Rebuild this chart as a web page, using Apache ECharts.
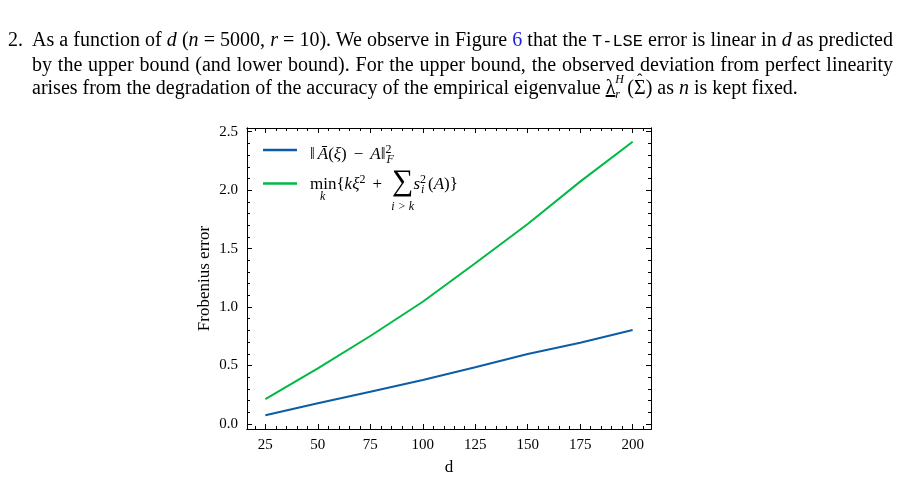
<!DOCTYPE html>
<html>
<head>
<meta charset="utf-8">
<script src="https://cdn.jsdelivr.net/npm/echarts@6/dist/echarts.min.js"></script>
<style>
    body { margin: 0; background: #fff; }
    #chart { position: absolute; left: 0; top: 0; width: 902px; height: 478px; }
    #text { position: absolute; left: 0; top: 28px; width: 902px; font-family: 'Liberation Serif', serif; font-size: 20px; line-height: 23px; color: #000; z-index: 2; }
    .ln { position: relative; margin-left: 32px; width: 861px; text-align: justify; text-align-last: justify; }
    .last { text-align-last: left; }
    .num { position: absolute; left: -24px; }
    .tt { font-family: 'Liberation Mono', monospace; font-size: 17px; }
    .blue { color: #1f1fe0; }
    .ss { display: inline-block; position: relative; width: 12px; height: 10px; }
    .ss .up { position: absolute; left: 0; top: -11px; font-size: 12px; font-style: italic; line-height: 12px; }
    .ss .dn { position: absolute; left: 0; top: 4px; font-size: 12px; font-style: italic; line-height: 12px; }
    .hat { position: relative; display: inline-block; }
    .hat .h { position: absolute; left: 3px; top: -8px; font-size: 16px; }
</style>
</head>
<body>
<div id="text">
    <div class="ln"><span class="num">2.</span>As a function of <i>d</i> (<i>n</i> = 5000, <i>r</i> = 10). We observe in Figure <span class="blue">6</span> that the <span class="tt">T-LSE</span> error is linear in <i>d</i> as predicted</div>
    <div class="ln">by the upper bound (and lower bound). For the upper bound, the observed deviation from perfect linearity</div>
    <div class="ln last">arises from the degradation of the accuracy of the empirical eigenvalue <span style="text-decoration: underline">λ</span><span class="ss"><span class="up">H</span><span class="dn">r</span></span>(<span class="hat">Σ<span class="h">ˆ</span></span>) as <i>n</i> is kept fixed.</div>
</div>
<div id="chart"></div>
<script>
var dValues = [25, 50, 75, 100, 125, 150, 175, 200];
var frobError = [0.073, 0.176, 0.275, 0.375, 0.484, 0.598, 0.694, 0.803];
var boundError = [0.212, 0.475, 0.752, 1.045, 1.374, 1.711, 2.073, 2.415];
var seriesNames = ['frob', 'bound'];
var xMajorTicks = [25, 50, 75, 100, 125, 150, 175, 200];
var yMajorTicks = [0, 0.5, 1.0, 1.5, 2.0, 2.5];

var X_MIN = 16.25, X_MAX = 208.75;
var Y_MIN = -0.044, Y_MAX = 2.532;
var FONT = 'Liberation Serif';

// minor ticks: every 5 on x, every 0.1 on y
var xMinorTicks = [];
for (var v = 20; v <= 205; v += 5) {
    if (v % 25 != 0) xMinorTicks.push(v);
}
var yMinorTicks = [];
for (var k = 1; k <= 25; k++) {
    if (k % 5 != 0) yMinorTicks.push(k / 10);
}

function pairs(xs, ys) {
    var out = [];
    for (var i = 0; i < xs.length; i++) out.push([xs[i], ys[i]]);
    return out;
}

function makeAxis(kind, pos, ticks, len, withLabels) {
    var axis = {
        type: 'value',
        position: pos,
        min: kind == 'x' ? X_MIN : Y_MIN,
        max: kind == 'x' ? X_MAX : Y_MAX,
        axisLine: { show: true, onZero: false, lineStyle: { color: '#000', width: 1 } },
        axisTick: { show: true, inside: true, length: len, customValues: ticks, lineStyle: { color: '#000', width: 1 } },
        axisLabel: { show: false },
        splitLine: { show: false }
    };
    if (withLabels) {
        axis.axisLabel = {
            show: true,
            customValues: ticks,
            margin: 9,
            color: '#000',
            fontFamily: FONT,
            fontSize: 15,
            formatter: function (val) {
                return kind == 'x' ? String(val) : val.toFixed(1);
            }
        };
    }
    return axis;
}

var xAxes = [
    makeAxis('x', 'bottom', xMajorTicks, 5, true),
    makeAxis('x', 'bottom', xMinorTicks, 3, false),
    makeAxis('x', 'top', xMajorTicks, 5, false),
    makeAxis('x', 'top', xMinorTicks, 3, false)
];
xAxes[0].name = 'd';
xAxes[0].nameLocation = 'middle';
xAxes[0].nameGap = 30;
xAxes[0].nameTextStyle = { fontFamily: FONT, fontSize: 17, color: '#000' };

var yAxes = [
    makeAxis('y', 'left', yMajorTicks, 5, true),
    makeAxis('y', 'left', yMinorTicks, 3, false),
    makeAxis('y', 'right', yMajorTicks, 5, false),
    makeAxis('y', 'right', yMinorTicks, 3, false)
];
yAxes[0].name = 'Frobenius error';
yAxes[0].nameLocation = 'middle';
yAxes[0].nameGap = 34;
yAxes[0].nameTextStyle = { fontFamily: FONT, fontSize: 17, color: '#000' };

// legend labels as rich text (math)
var rich = {
    n: { fontFamily: FONT, fontSize: 17, lineHeight: 18, color: '#000' },
    i: { fontFamily: FONT, fontSize: 17, lineHeight: 18, fontStyle: 'italic', color: '#000' },
    s3: { fontSize: 10, lineHeight: 8, width: 3 },
    s7: { fontSize: 10, lineHeight: 8, width: 7 },
    s10: { fontSize: 10, lineHeight: 8, width: 10 },
    s12: { fontSize: 10, lineHeight: 8, width: 12 },
    sum: { fontFamily: FONT, fontSize: 30, lineHeight: 18, padding: [0, 0, 6, 0], color: '#000' },
    sup: { fontFamily: FONT, fontSize: 12, lineHeight: 8, width: 1, padding: [0, 0, 10, 0], color: '#000' },
    sub: { fontFamily: FONT, fontSize: 12, lineHeight: 8, fontStyle: 'italic', padding: [10, 0, 0, 0], color: '#000' },
    subw: { fontFamily: FONT, fontSize: 12, lineHeight: 8, width: 7, fontStyle: 'italic', padding: [10, 0, 0, 0], color: '#000' },
    g1: { fontSize: 10, lineHeight: 14, width: 10 },
    g2: { fontSize: 10, lineHeight: 14, width: 66 },
    sk: { fontFamily: FONT, fontSize: 12, lineHeight: 14, fontStyle: 'italic', padding: [0, 0, 8, 0], color: '#000' },
    sik: { fontFamily: FONT, fontSize: 12, lineHeight: 14, fontStyle: 'italic', padding: [12, 0, 0, 0], color: '#000' }
};
var legendText = {
    frob: '{n|‖}{s3| }{i|Ā}{n|(}{i|ξ}{n|)}{s7| }{n|−}{s7| }{i|A}{n|‖}{sup|2}{sub|F}',
    bound: '{n|min}{n|{}{i|k}{i|ξ}{sup|2}{s12| }{n|+}{s10| }{sum|∑}{i|s}{sup|2}{subw|i}{n|(}{i|A}{n|)}}\n' +
        '{g1| }{sk|k}{g2| }{sik|i > k}'
};

function makeLegend(name, top, padTop) {
    return {
        data: [name],
        left: 263,
        top: top,
        padding: 0,
        icon: 'rect',
        itemWidth: 34,
        itemHeight: 2.5,
        selectedMode: false,
        formatter: function (n) { return legendText[n]; },
        textStyle: { fontFamily: FONT, fontSize: 17, lineHeight: 18, color: '#000', padding: [padTop, 0, 0, 8], rich: rich }
    };
}

var chart = echarts.init(document.getElementById('chart'));
chart.setOption({
    animation: false,
    grid: { left: 247, right: 251, top: 128, bottom: 49, containLabel: false, outerBoundsMode: 'none' },
    xAxis: xAxes,
    yAxis: yAxes,
    legend: [makeLegend('frob', 136, 10), makeLegend('bound', 159, 17)],
    series: [{
        name: seriesNames[0],
        type: 'line',
        data: pairs(dValues, frobError),
        showSymbol: false,
        color: '#0C5DA5',
        lineStyle: { width: 2 }
    }, {
        name: seriesNames[1],
        type: 'line',
        data: pairs(dValues, boundError),
        showSymbol: false,
        color: '#00B945',
        lineStyle: { width: 2 }
    }]
});
</script>
</body>
</html>
